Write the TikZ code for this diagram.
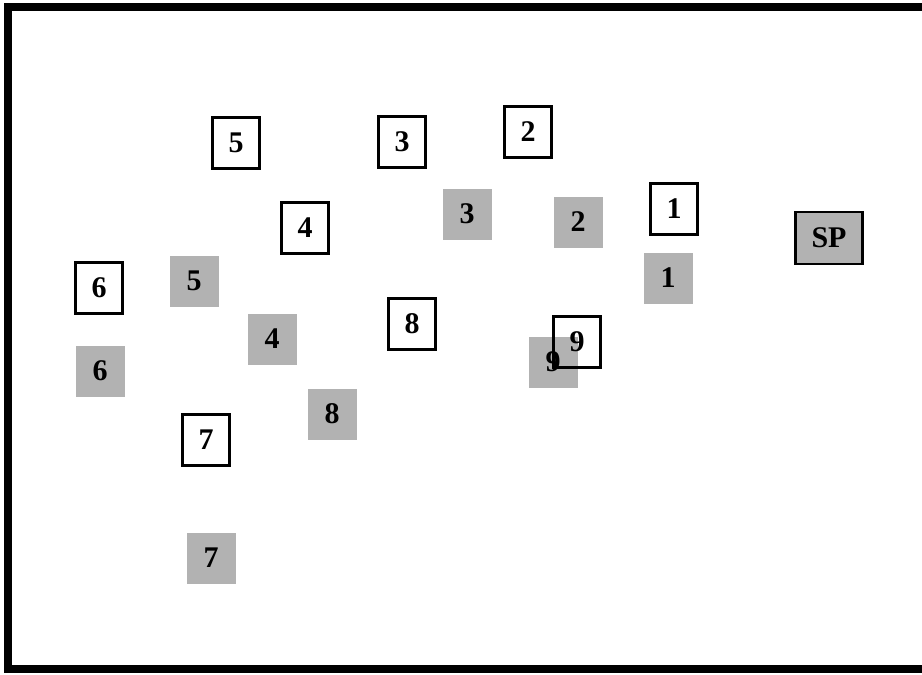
\documentclass[tikz,border=0pt]{standalone}
\usepackage{fontspec}
\setmainfont{Liberation Serif}
\begin{document}
\begin{tikzpicture}[x=1pt,y=-1pt,
  wbox/.style={draw=black,line width=2.4pt,minimum width=47pt,minimum height=51pt,inner sep=0pt,font=\fontsize{30}{34}\selectfont\bfseries},
  gbox/.style={fill=black!30,minimum width=49pt,minimum height=51pt,inner sep=0pt,font=\fontsize{30}{34}\selectfont\bfseries},
  spbox/.style={draw=black,line width=2.4pt,fill=black!30,minimum width=67pt,minimum height=52pt,inner sep=0pt,font=\fontsize{30}{34}\selectfont\bfseries}]
\useasboundingbox (0,0) rectangle (922,675);
\fill[white] (0,0) rectangle (922,675);
\draw[line width=8pt,miter limit=10] (922,7) -- (8,7) -- (8,669) -- (922,669);
% gray boxes
\node[gbox] (g1) at (668,278) {1};
\node[gbox] (g2) at (578,222) {2};
\node[gbox] (g3) at (467,214) {3};
\node[gbox] (g4) at (272,339) {4};
\node[gbox] (g5) at (194,281) {5};
\node[gbox] (g6) at (100,371) {6};
\node[gbox] (g7) at (211,558) {7};
\node[gbox] (g8) at (332,414) {8};
\node[gbox] (g9) at (553,362) {9};
% white boxes
\node[wbox] (w1) at (674,209) {1};
\node[wbox] (w2) at (528,132) {2};
\node[wbox] (w3) at (402,142) {3};
\node[wbox] (w4) at (305,228) {4};
\node[wbox] (w5) at (236,143) {5};
\node[wbox] (w6) at (99,288) {6};
\node[wbox] (w7) at (206,440) {7};
\node[wbox] (w8) at (412,324) {8};
\node[wbox] (w9) at (577,342) {9};
\node[spbox] (sp) at (829,238) {SP};
\end{tikzpicture}
\end{document}
